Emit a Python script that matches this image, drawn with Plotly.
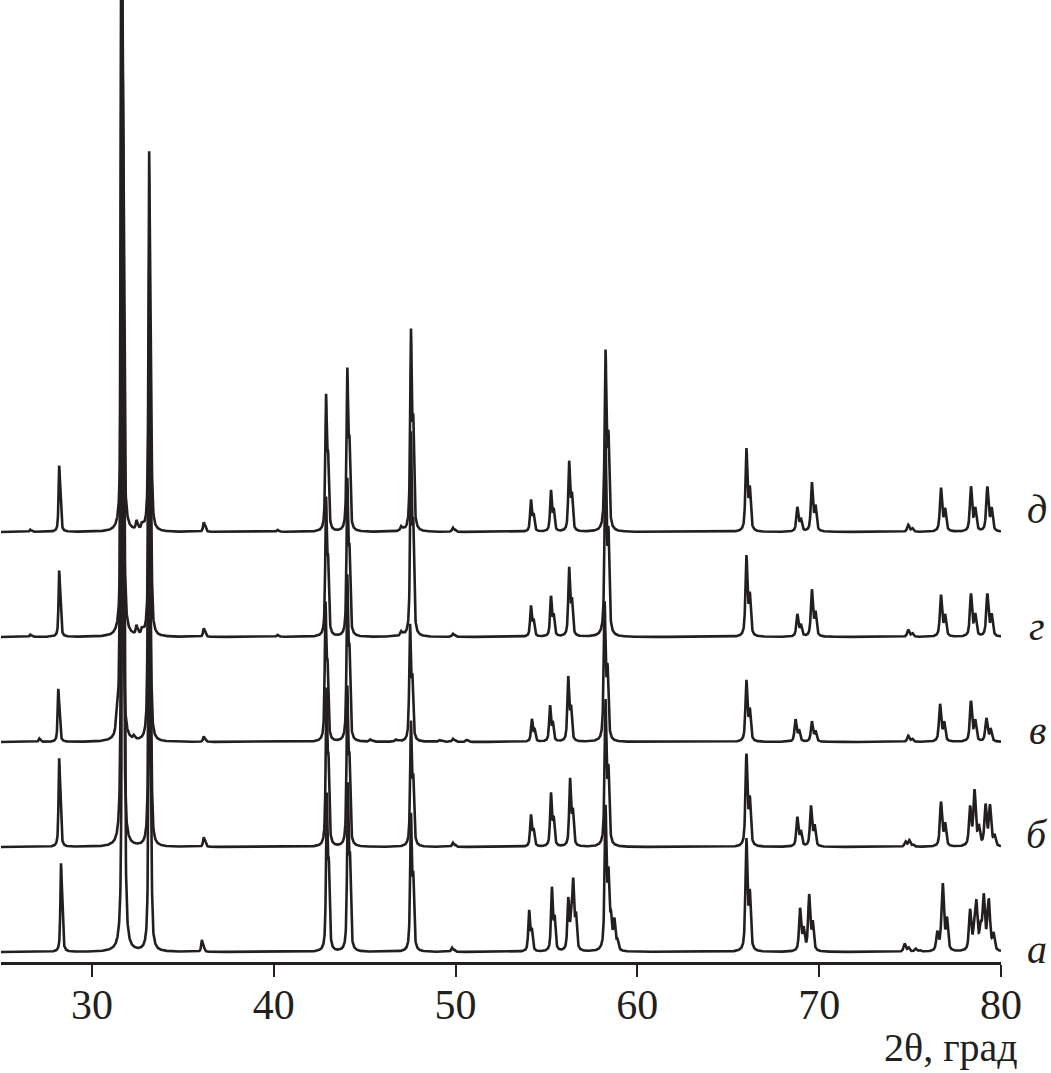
import numpy as np
import plotly.graph_objects as go

# ---------------- data ----------------
x_range = [25, 80]
tick_values = [30, 40, 50, 60, 70, 80]
x_title = "2θ, град"
pattern_labels = ["а", "б", "в", "г", "д"]

# peak positions (2θ, deg) and intensities (arb. units) for each pattern
pos_a = [28.3, 31.7, 33.15, 36.05, 42.92, 44.08, 47.55, 49.8, 54.05, 55.3, 56.2, 56.47,
         58.25, 58.55, 58.75, 66.0, 68.95, 69.45, 74.7, 75.3, 76.5, 76.8, 78.3, 78.65, 79.05, 79.35]
int_a = [80, 800, 370, 11, 150, 160, 132, 4, 40, 62, 50, 66,
         140, 28, 18, 110, 42, 55, 8, 3, 18, 62, 40, 43, 52, 32]

pos_b = [28.2, 31.65, 33.15, 36.15, 42.9, 44.05, 47.55, 49.85, 54.15, 55.25, 56.3, 58.25,
         66.0, 68.8, 69.55, 74.75, 74.95, 76.7, 78.3, 78.55, 79.15, 79.4]
int_b = [80, 700, 350, 9, 150, 152, 120, 4, 31, 52, 66, 142,
         90, 29, 40, 5, 4, 44, 38, 36, 40, 20]

pos_v = [27.1, 28.15, 31.35, 31.6, 32.3, 33.12, 36.15, 42.85, 44.05, 45.3, 46.7, 47.5, 49.1,
         49.85, 50.6, 54.2, 55.2, 56.2, 58.2, 66.0, 68.7, 69.6, 74.9, 76.65, 78.35, 79.2]
int_v = [3, 48, 14, 680, 3, 360, 5, 132, 158, 2, 2, 112, 2,
         3, 2, 22, 35, 63, 135, 60, 22, 20, 6, 37, 40, 23]

pos_g = [26.6, 28.2, 31.65, 32.45, 32.75, 33.15, 36.15, 40.2, 42.88, 44.05, 47.0, 47.55, 49.85,
         54.15, 55.25, 56.25, 58.25, 66.0, 68.8, 69.6, 74.9, 76.7, 78.35, 79.25]
int_g = [2, 60, 650, 8, 5, 340, 8, 2, 132, 150, 4, 195, 3,
         30, 39, 67, 190, 79, 22, 46, 7, 41, 42, 42]

pos_d = [26.6, 28.2, 31.65, 32.45, 32.75, 33.15, 36.15, 40.2, 42.88, 44.05, 47.0, 47.55, 49.85,
         54.15, 55.25, 56.25, 58.25, 66.0, 68.8, 69.6, 74.9, 76.7, 78.35, 79.25]
int_d = [2, 60, 620, 8, 5, 350, 9, 2, 130, 155, 4, 193, 4,
         31, 40, 68, 175, 81, 24, 48, 7, 43, 44, 44]

peak_tables = [(pos_a, int_a), (pos_b, int_b), (pos_v, int_v), (pos_g, int_g), (pos_d, int_d)]

# ---------------- rendering of the peak tables ----------------
stack_offsets = [10, 115, 220, 325, 430]   # vertical stacking of the patterns
LAM1, LAM2 = 1.54056, 1.54439               # Cu Kα1 / Kα2 doublet
grid = np.arange(x_range[0], x_range[1] + 1e-9, 0.01)


def profile(positions, heights):
    y = np.zeros_like(grid)
    for p, h in zip(positions, heights):
        p2 = 2 * np.degrees(np.arcsin(min(1.0, LAM2 / LAM1 * np.sin(np.radians(p / 2)))))
        w = 0.08 + 0.0012 * (p - 25)
        for c, a in ((p, 1.0), (p2, 0.5)):
            d = (grid - c) / w
            y += h * a * (0.65 / (1 + 4 * d * d) + 0.35 * np.exp(-4 * np.log(2) * d * d))
    return y


fig = go.Figure()
for (pos, inten), off in zip(peak_tables, stack_offsets):
    fig.add_trace(go.Scatter(x=grid, y=profile(pos, inten) + off, mode="lines",
                             line=dict(color="#231f20", width=2.6), showlegend=False,
                             hoverinfo="skip"))

label_shift = [3, 13, 12, 11, 23]
for lab, off, sh in zip(pattern_labels, stack_offsets, label_shift):
    fig.add_annotation(x=1.036, y=(off + sh) / 962, xref="paper", yref="paper",
                       text="<i>" + lab + "</i>", showarrow=False,
                       xanchor="center", yanchor="middle",
                       font=dict(family="Liberation Serif", size=40, color="#231f20"))

fig.add_annotation(x=1.019, y=-0.089, xref="paper", yref="paper", text=x_title,
                   showarrow=False, xanchor="right", yanchor="middle",
                   font=dict(family="Liberation Serif", size=40, color="#231f20"))

fig.update_layout(
    width=1051, height=1073,
    margin=dict(l=1, r=50, t=0, b=111),
    paper_bgcolor="white", plot_bgcolor="white",
    xaxis=dict(range=x_range, tickvals=tick_values, ticks="outside", ticklen=12,
               tickwidth=2, tickcolor="#231f20", showline=True, linewidth=2.5,
               linecolor="#231f20", showgrid=False, zeroline=False,
               ticklabelstandoff=-8,
               tickfont=dict(family="Liberation Serif", size=42, color="#231f20")),
    yaxis=dict(range=[0, 962], visible=False, showgrid=False, zeroline=False),
)

fig.write_html("out.html", config={"displayModeBar": False},
               post_script="document.body.style.margin='0px';")
